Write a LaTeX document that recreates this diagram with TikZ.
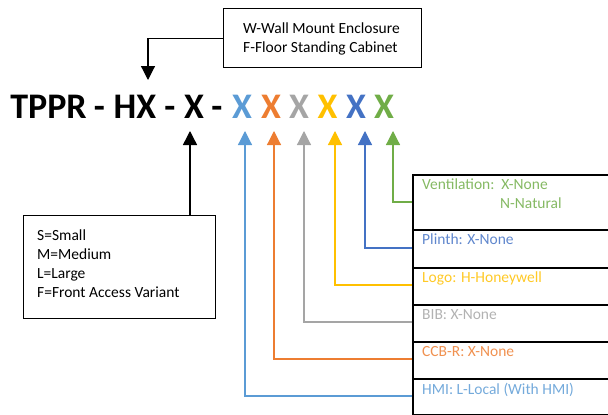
\documentclass[tikz,border=0pt]{standalone}
\usepackage{fontspec}
\setmainfont{Carlito}
\usetikzlibrary{arrows.meta}
\definecolor{cHMI}{HTML}{5B9BD5}
\definecolor{cCCB}{HTML}{ED7D31}
\definecolor{cBIB}{HTML}{A5A5A5}
\definecolor{cLogo}{HTML}{FFC000}
\definecolor{cPlinth}{HTML}{4472C4}
\definecolor{cVent}{HTML}{70AD47}
\tikzset{
  title/.style={font=\fontsize{36}{36}\selectfont\bfseries, anchor=base, inner sep=0pt},
  infobox/.style={draw=black, line width=1.3pt, anchor=north west, inner sep=0pt},
  rowbox/.style={draw=black, line width=1.7pt, anchor=north west, inner sep=0pt, minimum width=220pt},
  txt/.style={font=\fontsize{15.5}{19}\selectfont, anchor=base west, inner sep=0pt, align=left},
  conn/.style={line width=1.2pt, -{Triangle[width=14pt,length=14pt]}},
}
\begin{document}
\begin{tikzpicture}[x=1pt,y=-1pt]
\useasboundingbox (0,0) rectangle (608,415);
% title
\node[title] (tppr) at (48.5,118) {TPPR};
\node[title] (d1) at (99.5,118) {-};
\node[title] (hx) at (135,118) {HX};
\node[title] (d2) at (170,118) {-};
\node[title] (xsize) at (194,118) {X};
\node[title] (d3) at (217,118) {-};
\node[title, text=cHMI] (xhmi) at (242,118) {X};
\node[title, text=cCCB] (xccb) at (271,118) {X};
\node[title, text=cBIB] (xbib) at (299,118) {X};
\node[title, text=cLogo] (xlogo) at (327.5,118) {X};
\node[title, text=cPlinth] (xplinth) at (356,118) {X};
\node[title, text=cVent] (xvent) at (384,118) {X};
% top box
\node[infobox, minimum width=198pt, minimum height=59pt] (tbox) at (223,8) {};
\node[txt] (t1) at (243,33) {W-Wall Mount Enclosure};
\node[txt] (t2) at (243,52) {F-Floor Standing Cabinet};
\coordinate (tipTop) at (148,80);
\draw[conn] (tbox.west) -| (tipTop);
% left box
\node[infobox, minimum width=192pt, minimum height=103pt] (lbox) at (23,215) {};
\node[txt] (l1) at (37,240) {S=Small};
\node[txt] (l2) at (37,259) {M=Medium};
\node[txt] (l3) at (37,278) {L=Large};
\node[txt] (l4) at (37,297) {F=Front Access Variant};
\coordinate (tipSize) at (190,131);
\draw[conn, line width=1.4pt] (lbox.north -| tipSize) -- (tipSize);
% right column
\node[rowbox, minimum height=55pt] (vent) at (412,174) {};
\node[rowbox, minimum height=38pt] (plinth) at (412,229) {};
\node[rowbox, minimum height=37pt] (logo) at (412,267) {};
\node[rowbox, minimum height=37pt] (bib) at (412,304) {};
\node[rowbox, minimum height=37pt] (ccb) at (412,341) {};
\node[rowbox, minimum height=36pt] (hmi) at (412,378) {};
\node[txt, text=cVent!85!white] (v1) at (422,189) {Ventilation:\ \ X-None};
\node[txt, text=cVent!85!white] (v2) at (500,208) {N-Natural};
\node[txt, text=cPlinth!85!white] (p1) at (422,244) {Plinth: X-None};
\node[txt, text=cLogo!85!white] (g1) at (422,282) {Logo: H-Honeywell};
\node[txt, text=cBIB!85!white] (b1) at (422,319) {BIB: X-None};
\node[txt, text=cCCB!85!white] (c1) at (422,356) {CCB-R: X-None};
\node[txt, text=cHMI!85!white] (h1) at (422,394) {HMI: L-Local (With HMI)};
% connectors
\coordinate (inVent) at (412,202);
\coordinate (inPlinth) at (412,248);
\coordinate (inLogo) at (412,285);
\coordinate (inBib) at (412,322);
\coordinate (inCcb) at (412,359);
\coordinate (inHmi) at (412,396);
\coordinate (tipVent) at (393,131);
\coordinate (tipPlinth) at (365,131);
\coordinate (tipLogo) at (335,131);
\coordinate (tipBib) at (304,131);
\coordinate (tipCcb) at (274,131);
\coordinate (tipHmi) at (245,131);
\draw[conn, cVent] (inVent) -| (tipVent);
\draw[conn, cPlinth] (inPlinth) -| (tipPlinth);
\draw[conn, cLogo] (inLogo) -| (tipLogo);
\draw[conn, cBIB] (inBib) -| (tipBib);
\draw[conn, cCCB] (inCcb) -| (tipCcb);
\draw[conn, cHMI] (inHmi) -| (tipHmi);
\end{tikzpicture}
\end{document}
